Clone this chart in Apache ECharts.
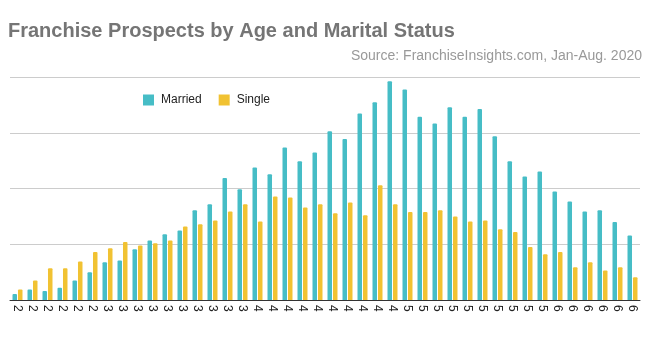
<!DOCTYPE html>
<html>
<head>
<meta charset="utf-8">
<script src="https://cdn.jsdelivr.net/npm/echarts@6/dist/echarts.min.js"></script>
<style>
html,body{margin:0;padding:0;background:#fff;}
#chart{width:650px;height:337px;}
</style>
</head>
<body>
<div id="chart"></div>
<script>
// Ages (categories); axis labels show only the leading digit as in the reference
var ages = [24,25,26,27,28,29,30,31,32,33,34,35,36,37,38,39,40,41,42,43,44,45,46,47,48,49,50,51,52,53,54,55,56,57,58,59,60,61,62,63,64,65];
var married = [0.11,0.19,0.16,0.22,0.35,0.50,0.68,0.71,0.91,1.07,1.18,1.25,1.61,1.72,2.19,1.99,2.38,2.26,2.74,2.49,2.65,3.03,2.89,3.35,3.55,3.93,3.78,3.29,3.17,3.46,3.29,3.43,2.94,2.49,2.22,2.31,1.95,1.77,1.59,1.61,1.40,1.16];
var single = [0.19,0.35,0.57,0.57,0.69,0.86,0.93,1.04,0.98,1.02,1.07,1.32,1.36,1.43,1.59,1.72,1.41,1.86,1.84,1.66,1.72,1.56,1.75,1.52,2.06,1.72,1.58,1.58,1.61,1.50,1.41,1.43,1.27,1.22,0.95,0.82,0.86,0.59,0.68,0.53,0.59,0.41];
var seriesNames = ['Married','Single'];
var colors = ['#46bdc6','#f1c232'];

var chart = echarts.init(document.getElementById('chart'));
chart.setOption({
  animation: false,
  color: colors,
  textStyle: {fontFamily: 'Liberation Sans'},
  title: [
    {text: 'Franchise Prospects by Age and Marital Status', left: 3, top: 16,
     textStyle: {fontSize: 20, fontWeight: 'bold', color: '#757575', fontFamily: 'Liberation Sans'}},
    {text: 'Source: FranchiseInsights.com, Jan-Aug. 2020', right: 3, top: 44,
     textStyle: {fontSize: 14, fontWeight: 'normal', color: '#999999', fontFamily: 'Liberation Sans'}}
  ],
  legend: {
    data: seriesNames, left: 138, top: 89, itemWidth: 11, itemHeight: 11, itemGap: 17,
    icon: 'rect',
    textStyle: {fontSize: 12, color: '#222', fontFamily: 'Liberation Sans', padding: [0,0,0,2]}
  },
  grid: {left: 10, right: 10, top: 77.3, bottom: 37, containLabel: false},
  xAxis: {
    type: 'category', data: ages,
    axisLine: {lineStyle: {color: '#333', width: 1}},
    axisTick: {show: false},
    axisLabel: {interval: 0, rotate: -90, fontSize: 12, color: '#222', margin: 5,
      formatter: function(v){ return String(v).charAt(0); }}
  },
  yAxis: {
    type: 'value', min: 0, max: 4, interval: 1,
    axisLabel: {show: false}, axisLine: {show: false}, axisTick: {show: false},
    splitLine: {lineStyle: {color: '#cccccc', width: 1}}
  },
  series: [
    {name: seriesNames[0], type: 'bar', data: married, barWidth: 4.5, barGap: '22%',
     itemStyle: {borderRadius: [1,1,0,0]}},
    {name: seriesNames[1], type: 'bar', data: single, barWidth: 4.5, barGap: '22%',
     itemStyle: {borderRadius: [1,1,0,0]}}
  ]
});
</script>
</body>
</html>
